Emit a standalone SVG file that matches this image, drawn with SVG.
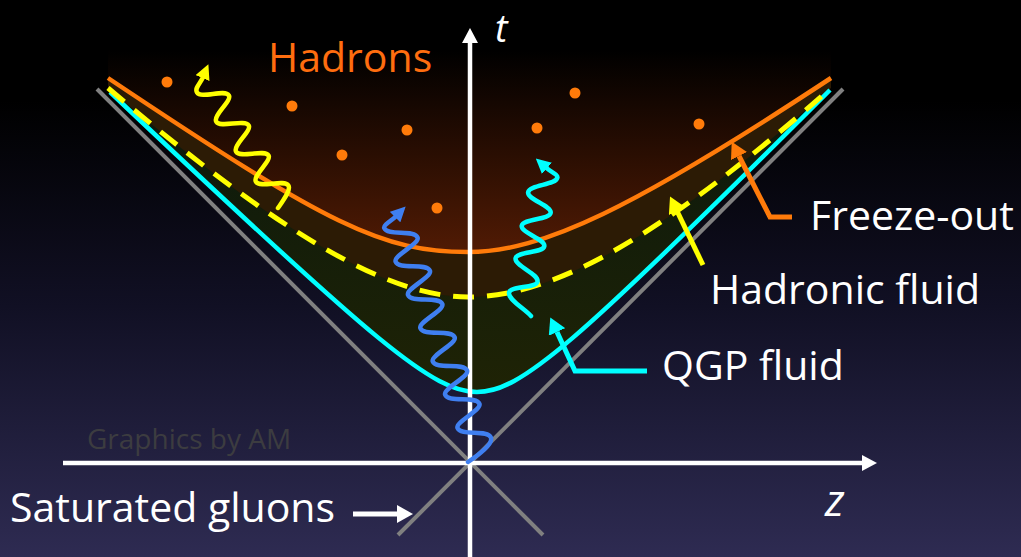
<svg xmlns="http://www.w3.org/2000/svg" width="1021" height="557" viewBox="0 0 1021 557">
<defs>
<linearGradient id="bg" x1="0" y1="0" x2="0" y2="557" gradientUnits="userSpaceOnUse">
<stop offset="0" stop-color="#000000"/><stop offset="0.18" stop-color="#000000"/><stop offset="0.55" stop-color="#111024"/><stop offset="1" stop-color="#2e2b52"/>
</linearGradient>
<linearGradient id="glow" x1="0" y1="50" x2="0" y2="255" gradientUnits="userSpaceOnUse">
<stop offset="0" stop-color="#000000"/><stop offset="1" stop-color="#521b04"/>
</linearGradient>
<linearGradient id="bandB" x1="0" y1="100" x2="0" y2="392" gradientUnits="userSpaceOnUse">
<stop offset="0" stop-color="#0b190d"/><stop offset="1" stop-color="#1f2305"/>
</linearGradient>
<marker id="mAxis" viewBox="0 -8 15 16" markerWidth="15" markerHeight="16" refX="0" refY="0" orient="auto" markerUnits="userSpaceOnUse"><path d="M0,-8 L15,0 L0,8 Z" fill="#ffffff"/></marker>
<marker id="mWhite" viewBox="0 -9 16 18" markerWidth="16" markerHeight="18" refX="0" refY="0" orient="auto" markerUnits="userSpaceOnUse"><path d="M0,-9 L16,0 L0,9 Z" fill="#ffffff"/></marker>
<marker id="mOrange" viewBox="0 -9 16 18" markerWidth="16" markerHeight="18" refX="0" refY="0" orient="auto" markerUnits="userSpaceOnUse"><path d="M0,-9 L16,0 L0,9 Z" fill="#ff7b0a"/></marker>
<marker id="mYellow" viewBox="0 -9 16 18" markerWidth="16" markerHeight="18" refX="0" refY="0" orient="auto" markerUnits="userSpaceOnUse"><path d="M0,-9 L16,0 L0,9 Z" fill="#ffff00"/></marker>
<marker id="mCyan" viewBox="0 -9 16 18" markerWidth="16" markerHeight="18" refX="0" refY="0" orient="auto" markerUnits="userSpaceOnUse"><path d="M0,-9 L16,0 L0,9 Z" fill="#00ffff"/></marker>
<marker id="wYellow" viewBox="0 -7.5 15 15" markerWidth="15" markerHeight="15" refX="0" refY="0" orient="auto" markerUnits="userSpaceOnUse"><path d="M0,-7.5 L15,0 L0,7.5 Z" fill="#ffff00"/></marker>
<marker id="wBlue" viewBox="0 -7.5 15 15" markerWidth="15" markerHeight="15" refX="0" refY="0" orient="auto" markerUnits="userSpaceOnUse"><path d="M0,-7.5 L15,0 L0,7.5 Z" fill="#3f7ff0"/></marker>
<marker id="wCyan" viewBox="0 -7.5 15 15" markerWidth="15" markerHeight="15" refX="0" refY="0" orient="auto" markerUnits="userSpaceOnUse"><path d="M0,-7.5 L15,0 L0,7.5 Z" fill="#00ffff"/></marker>
</defs>
<style>
.lbl{font-family:"Open Sans","Liberation Sans",sans-serif;font-size:41px;fill:#ffffff}
.ax{stroke:#ffffff;stroke-width:4.5;fill:none}
.cone{stroke:#808080;stroke-width:4;fill:none}
.wave{fill:none;stroke-width:4.5;stroke-linecap:round;stroke-linejoin:round}
.ptr{fill:none;stroke-width:5;stroke-linejoin:miter}
.dot{fill:#ff7b0a}
</style>
<rect x="0" y="0" width="1021" height="557" fill="url(#bg)"/>

<g id="regions">
<path d="M110,92 C379,347 434,392 477,392 C520,392 573,347 830,90 L830,20 L110,20 Z" fill="url(#bandB)"/>
<path d="M108,88 C280,234 388,297 468,297 C556,297 665,234 831,88 L831,20 L108,20 Z" fill="#2c1b05"/>
<path d="M108,78 C329,226 383,252 468,252 C542,252 633,208.5 831,78 L831,20 L108,20 Z" fill="url(#glow)"/>
</g>

<g id="light-cone">
<line class="cone" x1="97" y1="89" x2="543" y2="535"/>
<line class="cone" x1="843" y1="89" x2="398" y2="535"/>
</g>

<g id="qgp-curve"><path d="M110,92 C379,347 434,392 477,392 C520,392 573,347 830,90" fill="none" stroke="#00ffff" stroke-width="4.5"/></g>
<g id="hadronic-curve"><path d="M108,88 C280,234 388,297 468,297 C556,297 665,234 831,88" fill="none" stroke="#ffff00" stroke-width="5" stroke-dasharray="21 13"/></g>
<g id="freezeout-curve"><path d="M108,78 C329,226 383,252 468,252 C542,252 633,208.5 831,78" fill="none" stroke="#ff7b0a" stroke-width="4.5"/></g>

<g id="hadron-dots">
<circle class="dot" cx="167" cy="82" r="5.5"/>
<circle class="dot" cx="292" cy="106" r="5.5"/>
<circle class="dot" cx="407" cy="130" r="5.5"/>
<circle class="dot" cx="342" cy="155" r="5.5"/>
<circle class="dot" cx="437" cy="208" r="5.5"/>
<circle class="dot" cx="575" cy="93" r="5.5"/>
<circle class="dot" cx="537" cy="128" r="5.5"/>
<circle class="dot" cx="699" cy="124" r="5.5"/>
</g>

<g id="axes">
<path class="ax" d="M470,557 L470,43" marker-end="url(#mAxis)"/>
<path class="ax" d="M63,463 L862,463" marker-end="url(#mAxis)"/>
</g>

<g id="photons">
<path class="wave" stroke="#ffff00" transform="translate(278,208) rotate(-123.4)" marker-end="url(#wYellow)" d="M0,0 C4,10 8,21 13,21 C21,21 26,-4 34,-4 C41,-4 43,21 49,21 C57,21 62,-4 70,-4 C77,-4 79,21 85,21 C93,21 98,-4 106,-4 C113,-4 115,21 121,21 C129,21 133,-4 141,-4 C146,-4 147,4 150,8.5"/>
<path class="wave" stroke="#3f7ff0" transform="translate(468,462) rotate(-110.4)" marker-end="url(#wBlue)" d="M0,0 C3,12 8,30 15,30 C24,30 26.5,2 35.5,2 C42,2 44,31 50.5,31 C59.5,31 62,2 71,2 C77.5,2 79.5,31 86,31 C95,31 97.5,2 106.5,2 C113,2 115,31 121.5,31 C130.5,31 133,2 142,2 C148.5,2 150.5,31 157,31 C166,31 168.5,2 177.5,2 C184,2 186,31 192.5,31 C201.5,31 204,2 213,2 C219.5,2 221.5,31 228,31 C237,31 239.5,3 248.5,3 C251.5,3 253.3,13.3 255,17"/>
<path class="wave" stroke="#00ffff" transform="translate(531,316) rotate(-79.2)" marker-end="url(#wCyan)" d="M0,0 C6,-8 12,-26 19,-26 C26,-26 28,0 35,0 C43,0 46,-26 54,-26 C61,-26 64,0 71,0 C78,0 80,-26 87,-26 C94,-26 98,0 105,0 C112,0 114,-26 121,-26 C129,-26 133,0 141,0 C144,0 145,-7 148,-12"/>
</g>

<g id="pointers">
<path class="ptr" stroke="#ff7b0a" d="M792,217 L770,217 L739,156" marker-end="url(#mOrange)"/>
<path class="ptr" stroke="#ffff00" d="M703,265 L677,211" marker-end="url(#mYellow)"/>
<path class="ptr" stroke="#00ffff" d="M647,371 L575,371 L557,332" marker-end="url(#mCyan)"/>
<path class="ptr" stroke="#ffffff" d="M353,514 L397,514" marker-end="url(#mWhite)"/>
</g>

<g id="labels">
<text x="268" y="72" style="font-family:'Open Sans','Liberation Sans',sans-serif;font-size:41px;fill:#ff6d0f">Hadrons</text>
<text class="lbl" x="810" y="230">Freeze-out</text>
<text class="lbl" x="710" y="304">Hadronic fluid</text>
<text class="lbl" x="662" y="380">QGP fluid</text>
<text class="lbl" x="10" y="522">Saturated gluons</text>
<text x="87" y="449" style="font-family:'Open Sans','Liberation Sans',sans-serif;font-size:28px;fill:#3c3c40">Graphics by AM</text>
<text x="495" y="42" style="font-family:'Open Sans','Liberation Sans',sans-serif;font-size:38px;font-style:italic;fill:#ffffff">t</text>
<text x="825" y="516" style="font-family:'Open Sans','Liberation Sans',sans-serif;font-size:44px;font-style:italic;fill:#ffffff">z</text>
</g>
</svg>
